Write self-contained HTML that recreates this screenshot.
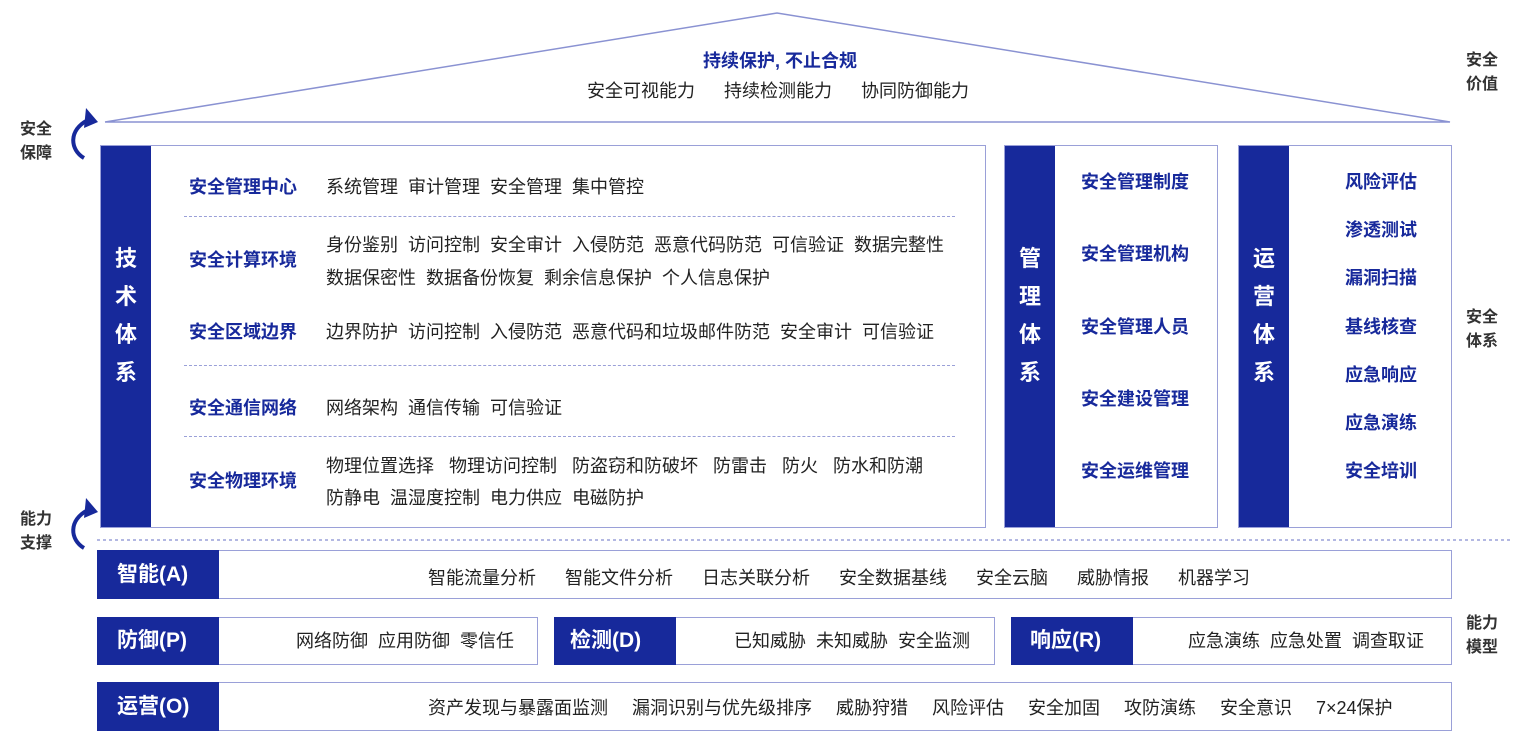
<!DOCTYPE html>
<html><head><meta charset="utf-8"><style>
body{margin:0;width:1520px;height:739px;background:#fff;position:relative;overflow:hidden;font-family:"Liberation Sans","Noto Sans CJK SC",sans-serif;color:#222}
.a{position:absolute;white-space:pre;line-height:1}
.box{position:absolute;border:1.5px solid #9aa0d8;box-sizing:border-box;background:#fff}
.bar{position:absolute;background:#17299b}
.b{color:#17299b;font-weight:bold}
.v{position:absolute;color:#fff;font-weight:bold;font-size:22px;line-height:38px;width:50px;text-align:center}
.lb{position:absolute;color:#fff;font-weight:bold;font-size:21px;line-height:1;white-space:pre}
.side{position:absolute;font-weight:bold;font-size:16px;line-height:24px;color:#333}
.t{font-size:18px}
.t i,.a i{font-style:normal;display:inline-block}
.hd{position:absolute;border-top:1.5px dashed #9aa0d8}
.g10 i{margin-left:10px}.g10 i:first-child{margin-left:0}
.g29 i{margin-left:29px}.g29 i:first-child{margin-left:0}
.g15 i{margin-left:15px}.g15 i:first-child{margin-left:0}
.g24 i{margin-left:24px}.g24 i:first-child{margin-left:0}
</style></head><body>
<svg width="1520" height="739" style="position:absolute;left:0;top:0">
<polyline points="105,122 777,13 1450,122 105,122" fill="none" stroke="#8a92d2" stroke-width="1.5"/>
<line x1="97" y1="540" x2="1510" y2="540" stroke="#9aa0d8" stroke-width="1.5" stroke-dasharray="3,3"/>
<path d="M84,158 C70,150 68,130 88,120" fill="none" stroke="#17299b" stroke-width="4"/>
<polygon points="86,108 98,122 84,128" fill="#17299b"/>
<path d="M84,548 C70,540 68,520 88,510" fill="none" stroke="#17299b" stroke-width="4"/>
<polygon points="86,498 98,512 84,518" fill="#17299b"/>
</svg>
<div class="a b" style="left:703px;top:52px;font-size:18px">持续保护, 不止合规</div>
<div class="a t g29" style="left:587px;top:82px"><i>安全可视能力</i><i>持续检测能力</i><i>协同防御能力</i></div>
<div class="side" style="left:20px;top:118px">安全<br>保障</div>
<div class="side" style="left:20px;top:508px">能力<br>支撑</div>
<div class="side" style="left:1466px;top:49px">安全<br>价值</div>
<div class="side" style="left:1466px;top:306px">安全<br>体系</div>
<div class="side" style="left:1466px;top:612px">能力<br>模型</div>

<div class="box" style="left:100px;top:145px;width:886px;height:383px"></div>
<div class="bar" style="left:101px;top:146px;width:50px;height:381px"></div>
<div class="v" style="left:101px;top:240px">技<br>术<br>体<br>系</div>
<div class="a b" style="left:189px;top:178px;font-size:18px">安全管理中心</div>
<div class="a t g10" style="left:326px;top:178px"><i>系统管理</i><i>审计管理</i><i>安全管理</i><i>集中管控</i></div>
<div class="hd" style="left:184px;top:216px;width:771px"></div>
<div class="a b" style="left:189px;top:251px;font-size:18px">安全计算环境</div>
<div class="a t g10" style="left:326px;top:236px"><i>身份鉴别</i><i>访问控制</i><i>安全审计</i><i>入侵防范</i><i>恶意代码防范</i><i>可信验证</i><i>数据完整性</i></div>
<div class="a t g10" style="left:326px;top:269px"><i>数据保密性</i><i>数据备份恢复</i><i>剩余信息保护</i><i>个人信息保护</i></div>
<div class="a b" style="left:189px;top:323px;font-size:18px">安全区域边界</div>
<div class="a t g10" style="left:326px;top:323px"><i>边界防护</i><i>访问控制</i><i>入侵防范</i><i>恶意代码和垃圾邮件防范</i><i>安全审计</i><i>可信验证</i></div>
<div class="hd" style="left:184px;top:365px;width:771px"></div>
<div class="a b" style="left:189px;top:399px;font-size:18px">安全通信网络</div>
<div class="a t g10" style="left:326px;top:399px"><i>网络架构</i><i>通信传输</i><i>可信验证</i></div>
<div class="hd" style="left:184px;top:436px;width:771px"></div>
<div class="a b" style="left:189px;top:472px;font-size:18px">安全物理环境</div>
<div class="a t g15" style="left:326px;top:457px"><i>物理位置选择</i><i>物理访问控制</i><i>防盗窃和防破坏</i><i>防雷击</i><i>防火</i><i>防水和防潮</i></div>
<div class="a t g10" style="left:326px;top:489px"><i>防静电</i><i>温湿度控制</i><i>电力供应</i><i>电磁防护</i></div>

<div class="box" style="left:1004px;top:145px;width:214px;height:383px"></div>
<div class="bar" style="left:1005px;top:146px;width:50px;height:381px"></div>
<div class="v" style="left:1005px;top:240px">管<br>理<br>体<br>系</div>
<div class="a b" style="left:1081px;top:146px;font-size:18px;line-height:72.3px">安全管理制度
安全管理机构
安全管理人员
安全建设管理
安全运维管理</div>

<div class="box" style="left:1238px;top:145px;width:214px;height:383px"></div>
<div class="bar" style="left:1239px;top:146px;width:50px;height:381px"></div>
<div class="v" style="left:1239px;top:240px">运<br>营<br>体<br>系</div>
<div class="a b" style="left:1345px;top:158px;font-size:18px;line-height:48.2px">风险评估
渗透测试
漏洞扫描
基线核查
应急响应
应急演练
安全培训</div>

<div class="box" style="left:97px;top:550px;width:1355px;height:49px"></div>
<div class="bar" style="left:97px;top:550px;width:122px;height:49px"></div>
<div class="lb" style="left:117px;top:564px">智能(A)</div>
<div class="a t g29" style="left:428px;top:569px"><i>智能流量分析</i><i>智能文件分析</i><i>日志关联分析</i><i>安全数据基线</i><i>安全云脑</i><i>威胁情报</i><i>机器学习</i></div>

<div class="box" style="left:97px;top:617px;width:441px;height:48px"></div>
<div class="bar" style="left:97px;top:617px;width:122px;height:48px"></div>
<div class="lb" style="left:117px;top:630px">防御(P)</div>
<div class="a t g10" style="left:296px;top:632px"><i>网络防御</i><i>应用防御</i><i>零信任</i></div>

<div class="box" style="left:554px;top:617px;width:441px;height:48px"></div>
<div class="bar" style="left:554px;top:617px;width:122px;height:48px"></div>
<div class="lb" style="left:570px;top:630px">检测(D)</div>
<div class="a t g10" style="left:734px;top:632px"><i>已知威胁</i><i>未知威胁</i><i>安全监测</i></div>

<div class="box" style="left:1011px;top:617px;width:441px;height:48px"></div>
<div class="bar" style="left:1011px;top:617px;width:122px;height:48px"></div>
<div class="lb" style="left:1030px;top:630px">响应(R)</div>
<div class="a t g10" style="left:1188px;top:632px"><i>应急演练</i><i>应急处置</i><i>调查取证</i></div>

<div class="box" style="left:97px;top:682px;width:1355px;height:49px"></div>
<div class="bar" style="left:97px;top:682px;width:122px;height:49px"></div>
<div class="lb" style="left:117px;top:696px">运营(O)</div>
<div class="a t g24" style="left:428px;top:699px"><i>资产发现与暴露面监测</i><i>漏洞识别与优先级排序</i><i>威胁狩猎</i><i>风险评估</i><i>安全加固</i><i>攻防演练</i><i>安全意识</i><i>7×24保护</i></div>
</body></html>
